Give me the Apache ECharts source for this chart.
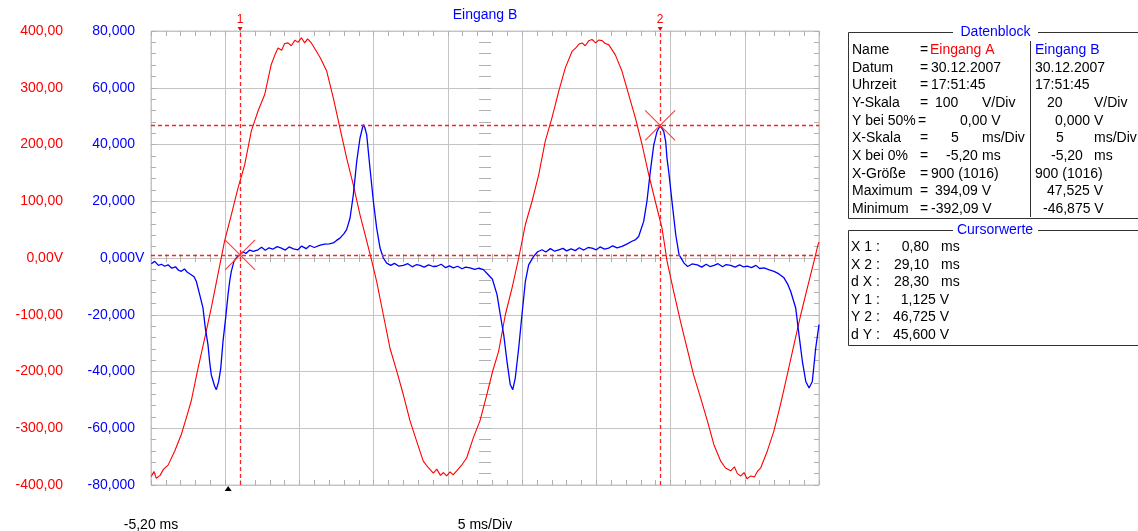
<!DOCTYPE html>
<html><head><meta charset="utf-8">
<script src="https://cdn.jsdelivr.net/npm/echarts@6/dist/echarts.min.js"></script>
<style>html,body{margin:0;padding:0;background:#fff}#c{width:1138px;height:531px}</style>
</head><body><div id="c"></div>
<script>
// ---- data (time in ms, voltage in V) ----
const redTime = [-5.18,-5.00,-4.85,-4.59,-4.35,-4.05,-3.60,-3.16,-2.80,-2.49,-2.03,-1.58,-1.14,-0.69,-0.24,0.21,0.66,1.11,1.56,2.01,2.46,2.90,3.15,3.36,3.60,3.80,4.03,4.25,4.50,4.70,4.93,5.15,5.35,5.60,5.90,6.22,6.64,7.08,7.53,7.98,8.43,8.88,9.33,9.67,10.00,10.45,10.90,11.35,11.80,12.25,12.70,13.14,13.50,13.82,14.05,14.30,14.50,14.72,14.95,15.15,15.39,15.70,16.07,16.51,16.96,17.42,17.81,18.22,18.67,19.12,19.57,20.02,20.47,20.92,21.36,21.81,22.27,22.71,23.16,23.40,23.64,23.84,24.05,24.30,24.51,24.75,24.95,25.19,25.40,25.63,26.08,26.53,26.98,27.43,27.88,28.33,28.77,29.22,29.36,29.56,30.00,30.46,30.91,31.35,31.83,32.28,32.72,33.18,33.50,33.85,34.10,34.30,34.53,34.75,34.95,35.20,35.45,35.65,35.87,36.32,36.76,37.21,37.66,38.11,38.57,39.01,39.47,39.73,39.80];
const redVolt = [-385,-376,-388,-383,-372,-365,-340,-311,-280,-252,-194,-141,-88,-29,30,76,123,164,224,259,288,341,358,370,366,378,379,374,384,380,388,379,386,379,366,352,329,282,229,176,129,76,30,-5,-41,-100,-159,-199,-241,-287,-323,-358,-370,-379,-372,-383,-378,-384,-377,-382,-375,-366,-352,-317,-287,-241,-200,-164,-100,-53,0,59,100,147,206,247,294,335,364,370,377,379,374,383,385,379,384,383,378,376,358,329,288,247,200,147,100,53,30,-5,-58,-111,-159,-206,-247,-287,-329,-358,-370,-375,-368,-380,-384,-378,-389,-384,-386,-376,-370,-340,-305,-258,-206,-153,-100,-53,-5,23,28];
const blueTime = [-5.18,-4.95,-4.70,-4.50,-4.28,-4.05,-3.80,-3.55,-3.35,-3.16,-2.95,-2.75,-2.49,-2.30,-2.15,-1.92,-1.70,-1.54,-1.36,-1.25,-1.14,-0.91,-0.80,-0.64,-0.50,-0.35,-0.17,-0.01,0.10,0.21,0.39,0.60,0.80,1.00,1.20,1.45,1.70,2.01,2.25,2.50,2.75,3.00,3.30,3.58,3.85,4.10,4.40,4.70,4.95,5.25,5.50,5.80,6.20,6.50,6.80,7.08,7.30,7.53,7.80,7.98,8.21,8.43,8.66,8.88,9.10,9.20,9.33,9.55,9.78,10.00,10.23,10.45,10.68,10.95,11.20,11.50,11.80,12.10,12.40,12.70,12.92,13.20,13.50,13.80,14.05,14.35,14.65,14.90,15.17,15.45,15.75,16.00,16.29,16.60,16.90,17.19,17.52,17.80,18.11,18.33,18.56,18.78,19.00,19.17,19.34,19.57,19.79,20.02,20.24,20.58,20.85,21.14,21.40,21.70,22.00,22.27,22.55,22.80,23.10,23.38,23.65,23.95,24.25,24.51,24.80,25.05,25.35,25.63,25.90,26.20,26.53,26.85,27.20,27.45,27.65,27.99,28.21,28.44,28.67,28.89,29.10,29.34,29.47,29.56,29.70,29.92,30.15,30.37,30.71,30.95,31.25,31.60,31.90,32.20,32.45,32.73,33.00,33.30,33.55,33.85,34.15,34.45,34.70,34.97,35.25,35.55,35.80,36.10,36.45,36.77,37.10,37.44,37.70,37.89,38.23,38.45,38.68,38.91,39.13,39.35,39.58,39.80];
const blueVolt = [-2.0,-1.2,-2.6,-2.2,-2.9,-2.4,-3.6,-3.1,-4.3,-4.7,-3.9,-5.0,-5.9,-6.6,-8.2,-12.9,-17.6,-24.7,-30.6,-36.5,-41.2,-45.2,-46.4,-43.5,-38.8,-29.4,-21.1,-12.9,-8.2,-4.7,-1.2,0.4,1.1,2.2,1.6,2.8,2.3,2.9,3.8,2.7,3.6,3.1,4.0,3.5,2.8,3.9,3.2,2.9,4.2,3.3,4.4,3.7,4.5,4.9,5.0,5.3,6.2,7.0,8.6,10.0,14.1,22.3,34.1,42.3,47.0,46.0,43.5,31.7,20.0,10.6,3.5,0,-1.8,-2.6,-1.9,-2.9,-2.6,-2.0,-3.1,-2.3,-2.6,-3.2,-2.4,-3.0,-2.9,-2.2,-3.4,-2.8,-3.5,-2.9,-3.8,-3.2,-3.5,-4.0,-3.6,-4.1,-5.9,-7.5,-12.9,-20.0,-27.0,-36.4,-44.6,-46.4,-42.3,-31.7,-20.0,-8.2,-2.4,0.6,2.2,2.9,2.1,3.3,2.4,2.9,3.4,2.5,3.2,2.6,3.6,2.8,3.7,3.5,2.9,3.9,3.1,3.5,4.3,3.6,4.1,4.9,5.9,6.5,7.6,12.9,20.0,30.6,39.9,44.6,46.7,44.6,41.1,35.2,29.4,18.8,8.2,1.2,-1.8,-3.0,-2.1,-2.4,-3.2,-2.2,-3.0,-2.6,-2.0,-3.1,-2.3,-2.6,-3.2,-2.4,-3.1,-2.9,-3.4,-2.6,-3.7,-3.5,-4.2,-4.7,-5.6,-7.0,-9.3,-11.7,-17.6,-27.0,-36.4,-43.5,-45.8,-43.5,-31.7,-23.5];
const redTickLabels = ['-400,00','-300,00','-200,00','-100,00','0,00V','100,00','200,00','300,00','400,00'];
const blueTickLabels = ['-80,000','-60,000','-40,000','-20,000','0,000V','20,000','40,000','60,000','80,000'];
const cursorX = [0.80, 29.10];
const cursorY = [1.125, 46.725];
const triggerX = 0;
const xStartLabel = '-5,20 ms';
const xScaleLabel = '5 ms/Div';
const datenNames = ['Name','Datum','Uhrzeit','Y-Skala','Y bei 50%','X-Skala','X bei 0%','X-Größe','Maximum','Minimum'];
const eingangAWerte = ['Eingang A','30.12.2007','17:51:45','100','0,00 V','5','-5,20','900 (1016)','394,09 V','-392,09 V'];
const eingangBWerte = ['Eingang B','30.12.2007','17:51:45','20','0,000 V','5','-5,20','900 (1016)','47,525 V','-46,875 V'];
const einheiten = ['','','','V/Div','','ms/Div','ms','','',''];
const cursorNames = ['X 1 :','X 2 :','d X :','Y 1 :','Y 2 :','d Y :'];
const cursorWerte = ['0,80','29,10','28,30','1,125 V','46,725 V','45,600 V'];
const cursorEinheiten = ['ms','ms','ms','','',''];

// ---- layout ----
const FF = '"Liberation Sans", Arial, sans-serif';
const FONT = '14px ' + FF;
const RED = '#ff0000', BLUE = '#0000ff', GRID = '#c4c4c4', TICK = '#b0b0b0';
const gL = 151, gT = 31, gW = 668, gH = 454;
const xMin = -5.2, xMax = 39.8;

function tickX(pos, extra) {
  return Object.assign({type:'value', min:xMin, max:xMax, interval:1, position:pos,
    axisLine:{show:false, onZero:false}, axisLabel:{show:false}, splitLine:{show:false},
    axisTick:{show:true, inside:true, length:5, lineStyle:{color:TICK}}}, extra||{});
}
function tickY(pos, extra) {
  return Object.assign({type:'value', min:-80, max:80, interval:4, position:pos,
    axisLine:{show:false, onZero:false}, axisLabel:{show:false}, splitLine:{show:false},
    axisTick:{show:true, inside:true, length:5, lineStyle:{color:TICK}}}, extra||{});
}

const graphics = [];
function txt(x, y, s, fill, align) {
  graphics.push({type:'text', silent:true, style:{x:x, y:y, text:s, fill:fill||'#000', font:FONT, align:align||'left', verticalAlign:'middle'}});
}
function line(x1,y1,x2,y2) {
  graphics.push({type:'line', silent:true, shape:{x1:x1,y1:y1,x2:x2,y2:y2}, style:{stroke:'#333', lineWidth:1}});
}
txt(485, 15, 'Eingang B', BLUE, 'center');
txt(151, 525, xStartLabel, '#000', 'center');
txt(485, 525, xScaleLabel, '#000', 'center');

// Datenblock
const bL = 848.5, bR = 1145;
line(bL, 32.5, 953, 32.5); line(1038, 32.5, bR, 32.5);
line(bL, 32.5, bL, 218.5); line(bL, 218.5, bR, 218.5);
line(1030.5, 41, 1030.5, 217);
txt(995.5, 32.5, 'Datenblock', BLUE, 'center');
const colAx = [930,931,931,935,960,951,946,931,935,931];
const colBx = [1035,1035,1035,1047,1055,1056,1051,1035,1047,1043];
datenNames.forEach((n, i) => {
  const y = 50 + i * 17.67;
  txt(852, y, n);
  txt(i === 4 ? 918 : 920, y, '=');
  txt(colAx[i], y, eingangAWerte[i], i === 0 ? RED : '#000');
  txt(colBx[i], y, eingangBWerte[i], i === 0 ? BLUE : '#000');
  if (einheiten[i]) { txt(982, y, einheiten[i]); txt(1094, y, einheiten[i]); }
});
// Cursorwerte
line(bL, 230.5, 953, 230.5); line(1038, 230.5, bR, 230.5);
line(bL, 230.5, bL, 345.5); line(bL, 345.5, bR, 345.5);
txt(995, 230.5, 'Cursorwerte', BLUE, 'center');
cursorNames.forEach((n, i) => {
  const y = 247.3 + i * 17.5;
  txt(851, y, n);
  if (cursorEinheiten[i]) { txt(929, y, cursorWerte[i], '#000', 'right'); txt(941, y, cursorEinheiten[i]); }
  else txt(949, y, cursorWerte[i], '#000', 'right');
});

const cursorLine = {color:'#ff2020', type:[4,3], width:1.3, opacity:1};
const crossPath = 'path://M0,0L30,30M30,0L0,30';
const crossStyle = {color:'none', borderColor:'#ff3b3b', borderWidth:1.1};
const cursorLabel = {show:true, position:'end', distance:5, color:RED, fontSize:12, fontFamily:FF};
const bIdx = (v) => Math.round((v + 80) / 20);

const option = {
  animation: false,
  backgroundColor: '#fff',
  grid: {left:gL, top:gT, width:gW, height:gH, show:true, borderColor:GRID, borderWidth:1, backgroundColor:'#fff'},
  xAxis: [
    {type:'value', min:xMin, max:xMax, interval:5, position:'bottom',
     axisLine:{show:false, onZero:false}, axisTick:{show:false}, axisLabel:{show:false},
     splitLine:{show:true, lineStyle:{color:GRID, width:1}}},
    tickX('bottom'),
    tickX('top'),
    tickX('bottom', {offset:-gH/2, axisTick:{show:true, inside:true, length:4, lineStyle:{color:TICK}}}),
    tickX('bottom', {offset:-gH/2, axisTick:{show:true, inside:false, length:4, lineStyle:{color:TICK}}})
  ],
  yAxis: [
    {type:'value', min:-400, max:400, interval:100, position:'left', offset:72,
     axisLine:{show:false, onZero:false}, axisTick:{show:false},
     axisLabel:{color:RED, fontSize:14, fontFamily:FF, margin:16, formatter:(v) => redTickLabels[Math.round((v + 400) / 100)]},
     splitLine:{show:true, lineStyle:{color:GRID, width:1}}},
    {type:'value', min:-80, max:80, interval:20, position:'left', offset:0,
     axisLine:{show:false, onZero:false}, axisTick:{show:false}, splitLine:{show:false},
     axisLabel:{color:BLUE, fontSize:14, fontFamily:FF, margin:16, formatter:(v) => v === 0 ? '' : blueTickLabels[bIdx(v)]}},
    // the zero label of Eingang B: the unit "V" hangs past the number column
    {type:'value', min:-80, max:80, interval:80, position:'left', offset:0,
     axisLine:{show:false, onZero:false}, axisTick:{show:false}, splitLine:{show:false},
     axisLabel:{color:BLUE, fontSize:14, fontFamily:FF, margin:51, align:'left', formatter:(v) => v === 0 ? blueTickLabels[bIdx(v)] : ''}},
    tickY('left'),
    tickY('right'),
    tickY('left', {offset:-gW/2, axisTick:{show:true, inside:true, length:6, lineStyle:{color:TICK}}}),
    tickY('left', {offset:-gW/2, axisTick:{show:true, inside:false, length:6, lineStyle:{color:TICK}}})
  ],
  series: [
    {type:'line', name:'Eingang A', xAxisIndex:0, yAxisIndex:0, symbol:'none', smooth:false,
     lineStyle:{color:RED, width:1.1}, itemStyle:{color:RED},
     data: redTime.map((t, i) => [t, redVolt[i]])},
    {type:'line', name:'Eingang B', xAxisIndex:0, yAxisIndex:1, symbol:'none', smooth:false,
     lineStyle:{color:BLUE, width:1.3}, itemStyle:{color:BLUE},
     data: blueTime.map((t, i) => [t, blueVolt[i]]),
     markLine:{silent:true, symbol:'none', animation:false, lineStyle:cursorLine,
       label:{show:false},
       data:[
         {xAxis:cursorX[0], lineStyle:cursorLine, label:Object.assign({formatter:'1'}, cursorLabel)},
         {xAxis:cursorX[1], lineStyle:cursorLine, label:Object.assign({formatter:'2'}, cursorLabel)},
         {yAxis:cursorY[0], lineStyle:cursorLine},
         {yAxis:cursorY[1], lineStyle:cursorLine}
       ]},
     markPoint:{silent:true, animation:false, label:{show:false},
       data:[
         {coord:[cursorX[0], cursorY[0]], symbol:crossPath, symbolSize:[30,30], itemStyle:crossStyle},
         {coord:[cursorX[1], cursorY[1]], symbol:crossPath, symbolSize:[30,30], itemStyle:crossStyle},
         {coord:[cursorX[0], 80], symbol:'triangle', symbolRotate:180, symbolSize:[5,4], symbolOffset:[0,-2], itemStyle:{color:RED}},
         {coord:[cursorX[1], 80], symbol:'triangle', symbolRotate:180, symbolSize:[5,4], symbolOffset:[0,-2], itemStyle:{color:RED}},
         {coord:[triggerX, -80], symbol:'triangle', symbolSize:[7,5], symbolOffset:[0,3.5], itemStyle:{color:'#000'}}
       ]}
    }
  ],
  graphic: graphics
};
const chart = echarts.init(document.getElementById('c'), null, {renderer:'canvas'});
chart.setOption(option);
</script>
</body></html>
